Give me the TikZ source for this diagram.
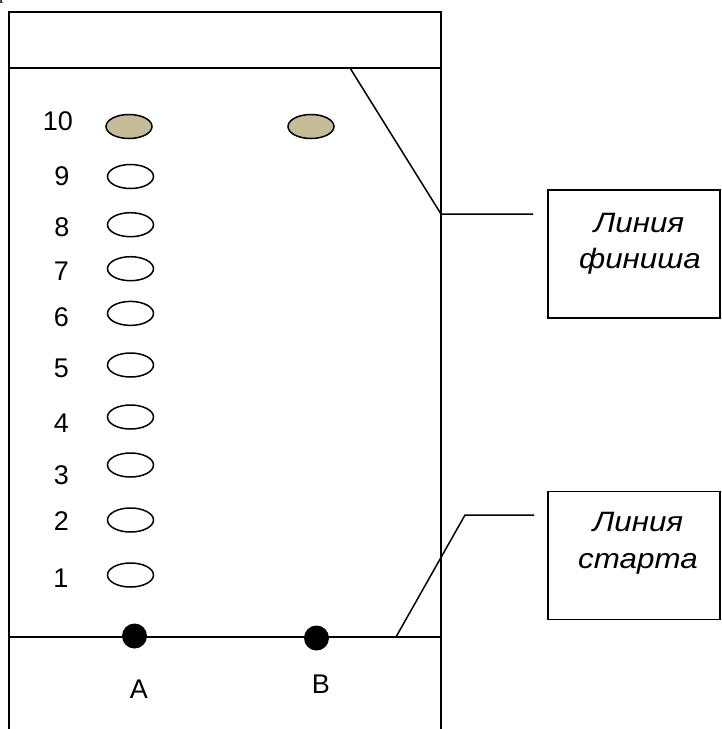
\documentclass[tikz,border=0pt]{standalone}
\usepackage{fontspec}
\setmainfont{Liberation Sans}
\newfontfamily\calloutfont[FakeStretch=1.12]{Liberation Sans}
\newfontfamily\frag{Liberation Serif}
\usetikzlibrary{shapes.geometric}
\definecolor{tanfill}{RGB}{196,189,151}
\tikzset{
  frame/.style={line width=1.6pt},
  lead/.style={line width=1.5pt},
  oval/.style={ellipse, draw, line width=1.5pt, minimum width=46pt, minimum height=24pt, inner sep=0pt},
  ovalfilled/.style={oval, fill=tanfill},
  num/.style={font=\fontsize{27}{30}\selectfont, inner sep=0pt},
  ptlabel/.style={font=\fontsize{27}{30}\selectfont, inner sep=0pt},
  dot/.style={circle, fill=black, minimum size=25pt, inner sep=0pt},
  callbox/.style={draw, line width=1.5pt, minimum width=172pt, minimum height=128pt, inner sep=0pt},
  calltext/.style={font=\calloutfont\fontsize{28}{32}\selectfont\itshape, inner sep=0pt, anchor=base}
}
\begin{document}
\begin{tikzpicture}[x=1pt,y=-1pt]
\useasboundingbox (0,0) rectangle (722,729);
% fragment of text above (cut off)
\node[anchor=base west, inner sep=0pt, font=\frag\fontsize{18}{20}\selectfont] (frag) at (-1,-0.8) {р};
% track frame
\draw[frame] (9,735) -- (9,12) -- (441,12) -- (441,735);
\coordinate (finL) at (9,68);
\coordinate (finR) at (441,68);
\coordinate (stL) at (9,637);
\coordinate (stR) at (441,637);
\draw[frame] (finL) -- (finR);
\draw[frame] (stL) -- (stR);
% ovals column A
\node[ovalfilled] (o10) at (129,126.5) {};
\node[ovalfilled] (o10b) at (311,126.5) {};
\node[oval] (o9) at (130.5,176.5) {};
\node[oval] (o8) at (130.5,224.7) {};
\node[oval] (o7) at (130.5,268.7) {};
\node[oval] (o6) at (130.5,313.4) {};
\node[oval] (o5) at (130.5,365) {};
\node[oval] (o4) at (130.5,417) {};
\node[oval] (o3) at (130.5,465) {};
\node[oval] (o2) at (130.5,520) {};
\node[oval] (o1) at (130.5,575) {};
% numbers
\node[num] (n10) at (58,121) {10};
\node[num] (n9) at (62,176) {9};
\node[num] (n8) at (62,226.7) {8};
\node[num] (n7) at (61.5,271) {7};
\node[num] (n6) at (61.5,316.7) {6};
\node[num] (n5) at (61.5,368) {5};
\node[num] (n4) at (61.5,423) {4};
\node[num] (n3) at (61.5,475) {3};
\node[num] (n2) at (61.5,520.7) {2};
\node[num] (n1) at (61,578) {1};
% start dots
\node[dot] (dA) at (134.5,636) {};
\node[dot] (dB) at (316.5,638) {};
\node[ptlabel] (lA) at (139,689) {A};
\node[ptlabel] (lB) at (321,684) {B};
% finish callout
\node[callbox] (fbox) at (634,254) {};
\node[calltext] (f1) at (639,232.7) {Линия};
\node[calltext] (f2) at (640,268) {финиша};
\coordinate (fa) at (350,68);
\coordinate (fb) at (441,214);
\coordinate (fc) at (533,214);
\draw[lead] (fa) -- (fb) -- (fc);
% start callout
\node[callbox] (sbox) at (634,555.5) {};
\node[calltext] (s1) at (638,531.7) {Линия};
\node[calltext] (s2) at (638,568.3) {старта};
\coordinate (sa) at (396,637);
\coordinate (sb) at (465,515);
\coordinate (sc) at (534,515);
\draw[lead] (sa) -- (sb) -- (sc);
\end{tikzpicture}
\end{document}
